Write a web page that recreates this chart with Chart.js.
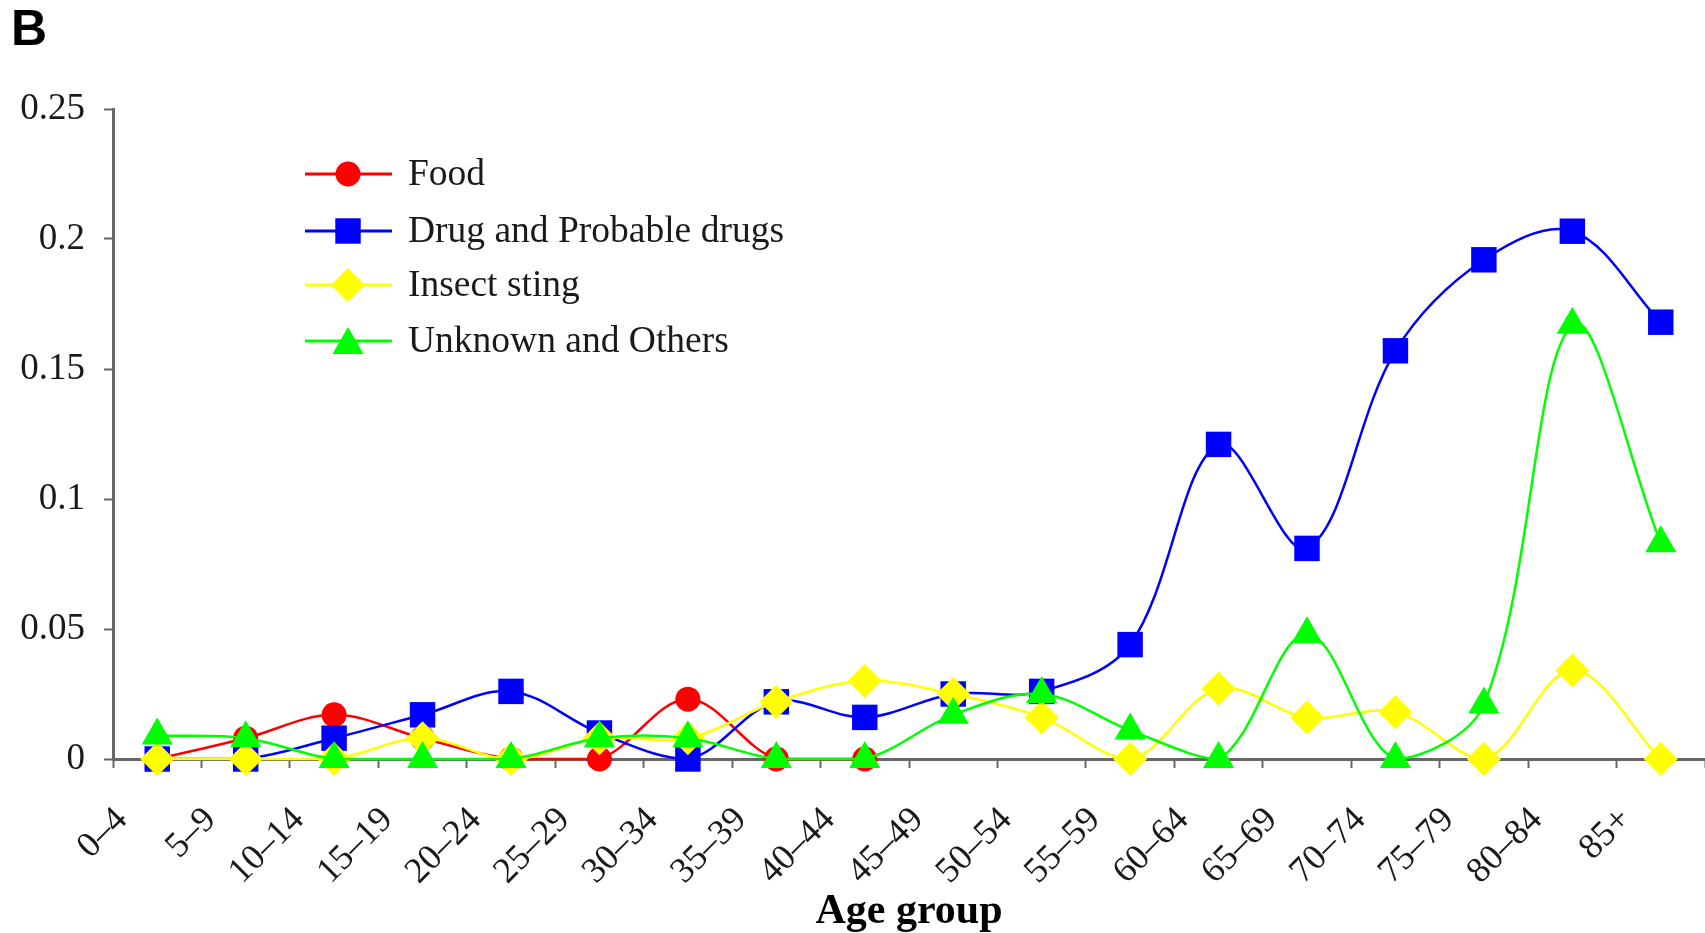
<!DOCTYPE html>
<html>
<head>
<meta charset="utf-8">
<script src="https://cdn.jsdelivr.net/npm/chart.js@4"></script>
<style>
  html, body { margin: 0; padding: 0; background: #fff; overflow: hidden; }
  #wrap { width: 1705px; height: 933px; position: relative; }
</style>
</head>
<body>
<div id="wrap"><canvas id="myChart"></canvas></div>
<script>
const ageGroups = ["0–4", "5–9", "10–14", "15–19", "20–24", "25–29", "30–34", "35–39", "40–44",
  "45–49", "50–54", "55–59", "60–64", "65–69", "70–74", "75–79", "80–84", "85+"];
const food = [0, 0.008, 0.017, 0.008, 0, 0, 0.023, 0, 0,
  null, null, null, null, null, null, null, null, null];
const drugs = [0, 0, 0.008, 0.017, 0.026, 0.01, 0, 0.022, 0.016,
  0.025, 0.026, 0.044, 0.121, 0.081, 0.157, 0.192, 0.203, 0.168];
const insectSting = [0, 0, 0, 0.008, 0, 0.008, 0.008, 0.022, 0.03,
  0.025, 0.016, 0, 0.027, 0.016, 0.018, 0, 0.034, 0];
const unknown = [0.009, 0.008, 0, 0, 0, 0.008, 0.008, 0, 0,
  0.017, 0.025, 0.011, 0, 0.048, 0, 0.021, 0.167, 0.083];
const yTicks = [0, 0.05, 0.1, 0.15, 0.2, 0.25];

const serif = "'Liberation Serif', 'Times New Roman', serif";
const textColor = "#1a1a1a";
const axisColor = "#666";

// points sit between the tick marks, labels sit on the tick marks
function toPoints(values) {
  return values.map((v, i) => ({ x: i + 0.5, y: v }));
}

function makeSet(label, values, color, style, radius, order) {
  return {
    label: label,
    data: toPoints(values),
    borderColor: color,
    backgroundColor: color,
    borderWidth: 2.5,
    pointStyle: style,
    pointRadius: radius,
    pointHoverRadius: radius,
    pointBorderWidth: 0,
    tension: 0.35,
    clip: false,
    order: order
  };
}

// legend with line + marker, like the original
const lineLegend = {
  id: "lineLegend",
  afterDraw(chart) {
    const ctx = chart.ctx;
    const ys = [174, 231, 285, 341];
    ctx.save();
    chart.data.datasets.forEach((ds, i) => {
      const y = ys[i];
      ctx.strokeStyle = ds.borderColor;
      ctx.lineWidth = 3;
      ctx.beginPath();
      ctx.moveTo(305, y);
      ctx.lineTo(392, y);
      ctx.stroke();
      ctx.fillStyle = ds.backgroundColor;
      Chart.helpers.drawPoint(ctx, {
        pointStyle: ds.pointStyle,
        radius: ds.pointRadius,
        rotation: 0,
        borderWidth: 0
      }, 348, ds.pointStyle === "triangle" ? y + 4 : y);
      ctx.fillStyle = textColor;
      ctx.font = "37.5px " + serif;
      ctx.textBaseline = "middle";
      ctx.textAlign = "left";
      ctx.fillText(ds.label, 408, y + 1);
    });
    ctx.restore();
  }
};

new Chart("myChart", {
  type: "line",
  data: {
    datasets: [
      makeSet("Food", food, "#ff0000", "circle", 12.5, 4),
      makeSet("Drug and Probable drugs", drugs, "#0000ff", "rect", 18, 3),
      makeSet("Insect sting", insectSting, "#ffff00", "rectRot", 17, 2),
      makeSet("Unknown and Others", unknown, "#00ff00", "triangle", 18, 1)
    ]
  },
  options: {
    responsive: true,
    maintainAspectRatio: false,
    animation: false,
    layout: { autoPadding: false, padding: { left: 11, top: 0, right: 0, bottom: 0 } },
    plugins: {
      legend: { display: false },
      tooltip: { enabled: false },
      title: {
        display: true,
        text: "B",
        align: "start",
        color: "#000",
        font: { family: "'Liberation Sans', Arial, sans-serif", size: 50, weight: "bold" },
        padding: { top: 1, bottom: 48 }
      }
    },
    scales: {
      x: {
        type: "linear",
        min: 0,
        max: 18,
        afterBuildTicks: (axis) => {
          axis.ticks = ageGroups.concat([""]).map((_, i) => ({ value: i }));
        },
        afterFit: (axis) => {
          axis.height = 174;
          axis.paddingRight = 0;
        },
        ticks: {
          autoSkip: false,
          minRotation: 45,
          maxRotation: 45,
          padding: 31,
          labelOffset: 9,
          color: textColor,
          font: { family: serif, size: 36 },
          callback: (value) => ageGroups[value] || ""
        },
        grid: {
          display: true,
          drawOnChartArea: false,
          drawTicks: true,
          tickLength: 9,
          tickWidth: 2,
          color: axisColor
        },
        border: { display: true, color: axisColor, width: 3 },
        title: {
          display: true,
          text: "Age group",
          color: "#000",
          font: { family: serif, size: 42, weight: "bold", lineHeight: 1 },
          padding: { top: 0, bottom: 0 }
        }
      },
      y: {
        min: 0,
        max: 0.25,
        afterBuildTicks: (axis) => {
          axis.ticks = yTicks.map((v) => ({ value: v }));
        },
        afterFit: (axis) => { axis.width = 102; },
        ticks: {
          padding: 19,
          color: textColor,
          font: { family: serif, size: 37 },
          callback: (value) => String(Number(value.toFixed(2)))
        },
        grid: {
          display: true,
          drawOnChartArea: false,
          drawTicks: true,
          tickLength: 9,
          tickWidth: 2,
          color: axisColor
        },
        border: { display: true, color: axisColor, width: 3 }
      }
    }
  },
  plugins: [lineLegend]
});
</script>
</body>
</html>
